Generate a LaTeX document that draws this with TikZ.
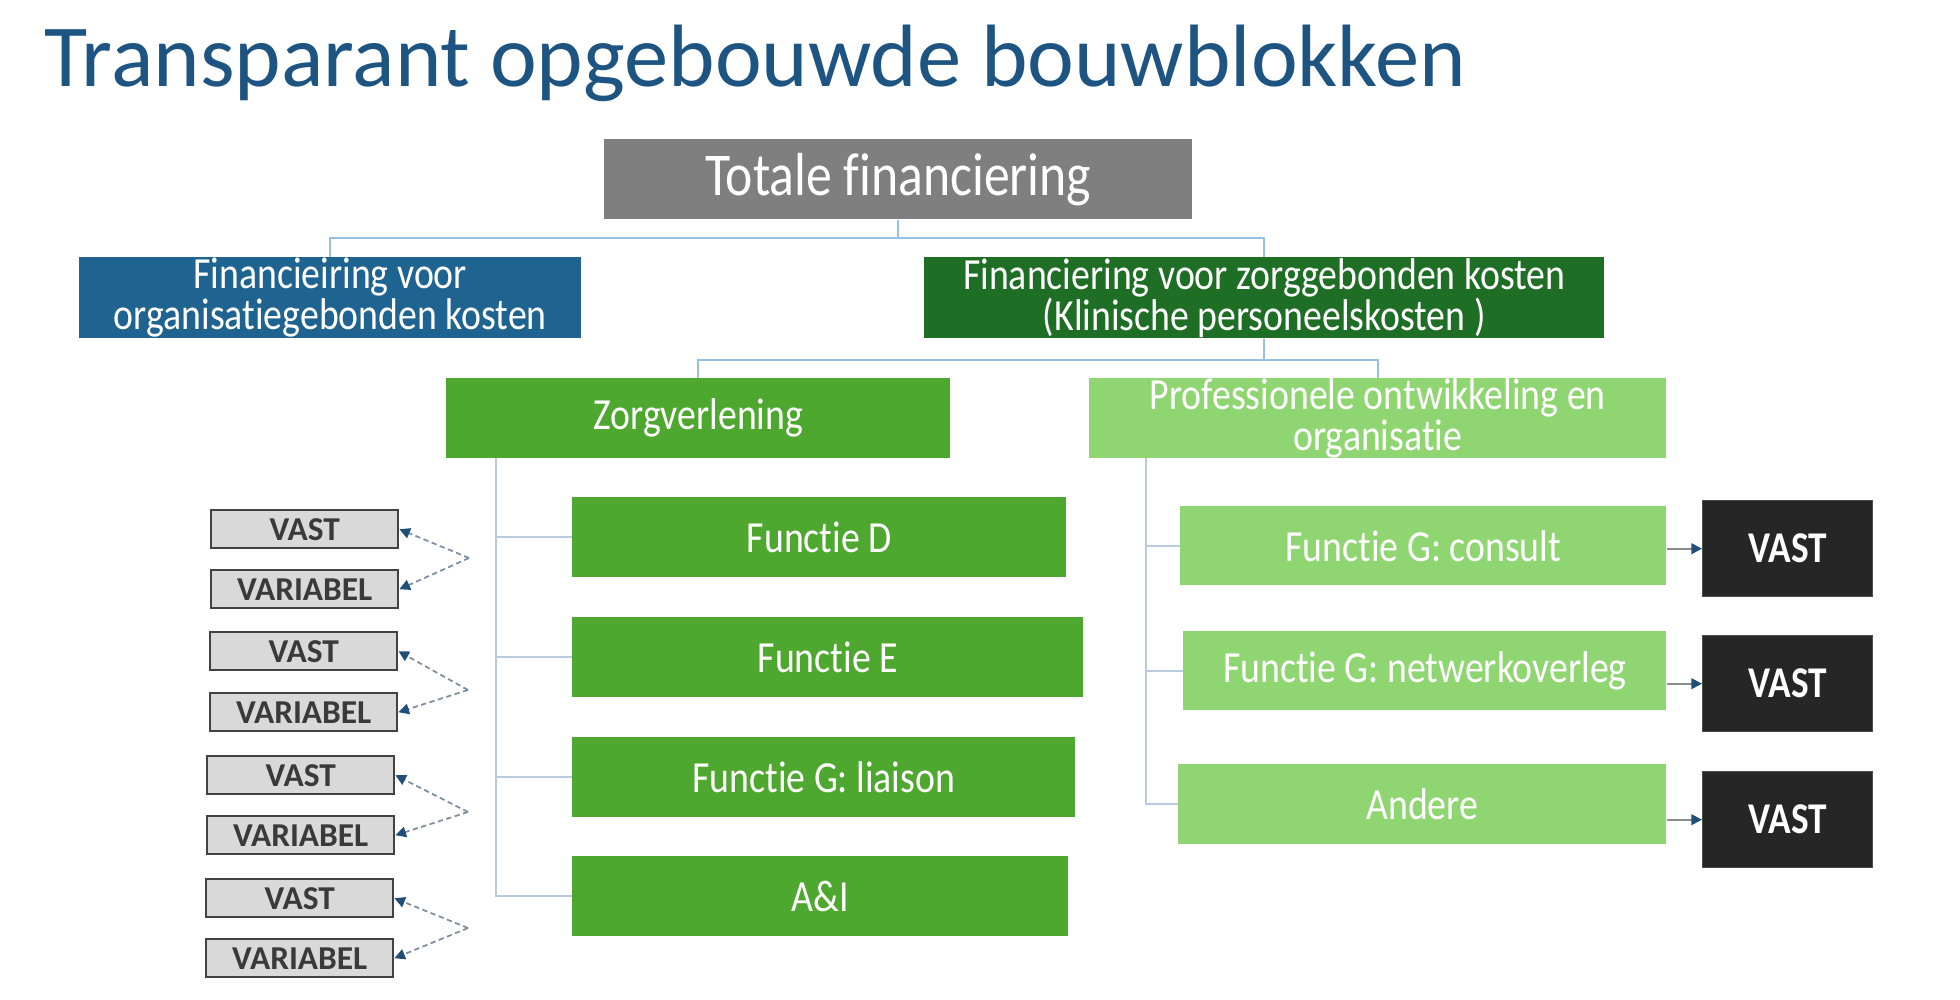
\documentclass[tikz,border=0pt]{standalone}
\usepackage{fontspec}
\setmainfont{Carlito}
\newfontfamily\narrowfont{Carlito}[FakeStretch=0.85, Ligatures=NoCommon]
\usepackage{xcolor}
\usetikzlibrary{positioning,arrows.meta}

\definecolor{titleblue}{RGB}{30,84,130}
\definecolor{topgrey}{RGB}{127,127,127}
\definecolor{orgblue}{RGB}{31,99,145}
\definecolor{darkgreen}{RGB}{31,110,38}
\definecolor{midgreen}{RGB}{78,167,46}
\definecolor{lightgreen}{RGB}{143,214,114}
\definecolor{linkblue}{RGB}{150,192,228}
\definecolor{treegrey}{RGB}{186,202,224}
\definecolor{vastdark}{RGB}{38,38,38}
\definecolor{chipgrey}{RGB}{217,217,217}
\definecolor{chipedge}{RGB}{66,66,66}
\definecolor{chiptext}{RGB}{58,58,58}
\definecolor{tipblue}{RGB}{31,78,121}
\definecolor{dashgrey}{RGB}{125,142,160}

\begin{document}
\begin{tikzpicture}[
    x=0.02cm, y=-0.02cm,
    box/.style={rectangle, anchor=north west, inner sep=0pt, align=center, text=white, font=\narrowfont\fontsize{25.3}{23.5}\selectfont},
    topbox/.style={box, fill=topgrey, font=\narrowfont\fontsize{34.6}{37}\selectfont},
    orgbox/.style={box, fill=orgblue},
    zorgbox/.style={box, fill=darkgreen},
    carebox/.style={box, fill=midgreen},
    devbox/.style={box, fill=lightgreen},
    vastbox/.style={rectangle, anchor=north west, inner sep=0pt, fill=vastdark, draw=black!70, line width=0.8pt, text=white, font=\narrowfont\bfseries\fontsize{25}{28}\selectfont, minimum width=3.4cm, minimum height=1.92cm},
    chip/.style={rectangle, anchor=north west, inner sep=0pt, fill=chipgrey, draw=chipedge, line width=1.4pt, text=chiptext, font=\bfseries\fontsize{19}{20}\selectfont, minimum width=3.74cm, minimum height=0.76cm},
    link/.style={draw=linkblue, line width=1.2pt},
    tree/.style={draw=treegrey, line width=1.2pt},
    feed/.style={draw=black!45, line width=1.2pt, -{Triangle[length=6pt, width=6pt, color=tipblue]}},
    split/.style={draw=dashgrey, line width=1pt, dash pattern=on 3pt off 2pt, -{Triangle[length=6pt, width=6pt, color=tipblue]}}
]
\useasboundingbox (0,0) rectangle (1960,1000);

% Title
\node[anchor=base west, inner sep=0pt, text=titleblue, font=\fontsize{50.4}{54}\selectfont] (title) at (44,87) {Transparant opgebouwde bouwblokken};

% Row 1 and 2: total and its two parts
\node[topbox, minimum width=11.76cm, minimum height=1.6cm] (total) at (604,139) {Totale financiering};
\node[orgbox, minimum width=10.04cm, minimum height=1.62cm] (orgfin) at (79,257) {Financieiring voor\\organisatiegebonden kosten};
\node[zorgbox, minimum width=13.6cm, minimum height=1.62cm] (zorgfin) at (924,257) {Financiering voor zorggebonden kosten\\(Klinische personeelskosten )};

% Row 3
\node[carebox, minimum width=10.08cm, minimum height=1.6cm] (care) at (446,378) {Zorgverlening};
\node[devbox, minimum width=11.54cm, minimum height=1.6cm] (develop) at (1089,378) {Professionele ontwikkeling en\\organisatie};

% Functions under Zorgverlening
\node[carebox, minimum width=9.88cm, minimum height=1.6cm] (funcD) at (572,497) {Functie D};
\node[carebox, minimum width=10.22cm, minimum height=1.6cm] (funcE) at (572,617) {Functie E};
\node[carebox, minimum width=10.06cm, minimum height=1.6cm] (liaison) at (572,737) {Functie G: liaison};
\node[carebox, minimum width=9.92cm, minimum height=1.6cm] (ai) at (572,856) {A\&I};

% Functions under professionele ontwikkeling
\node[devbox, minimum width=9.72cm, minimum height=1.58cm] (consult) at (1180,506) {Functie G: consult};
\node[devbox, minimum width=9.66cm, minimum height=1.58cm] (network) at (1183,631) {Functie G: netwerkoverleg};
\node[devbox, minimum width=9.76cm, minimum height=1.6cm] (other) at (1178,764) {Andere};

% Fixed parts on the right
\node[vastbox] (fixA) at (1702,500) {VAST};
\node[vastbox] (fixB) at (1702,635) {VAST};
\node[vastbox] (fixC) at (1702,771) {VAST};

% Fixed / variable pairs on the left
\node[chip] (fixD) at (210,509) {VAST};
\node[chip] (varD) at (210,569) {VARIABEL};
\node[chip] (fixE) at (209,631) {VAST};
\node[chip] (varE) at (209,692) {VARIABEL};
\node[chip] (fixL) at (206,755) {VAST};
\node[chip] (varL) at (206,815) {VARIABEL};
\node[chip] (fixI) at (205,878) {VAST};
\node[chip] (varI) at (205,938) {VARIABEL};

\coordinate (splitD) at (469,558);
\coordinate (splitE) at (468,690);
\coordinate (splitL) at (468,812);
\coordinate (splitI) at (468,928);
\coordinate (careTrunk) at (496,458);
\coordinate (devTrunk) at (1146,458);

% Top connectors
\draw[link] (total.south) -- ++(0,18) -| (orgfin.north);
\draw[link] (total.south) -- ++(0,18) -| (zorgfin.north);
\draw[link] (zorgfin.south) -- ++(0,21) -| (care.north);
\draw[link] (zorgfin.south) -- ++(0,21) -| (develop.north);

% Left tree
\draw[tree] (careTrunk) |- (ai.west);
\foreach \f in {funcD,funcE,liaison}
    \draw[tree] (careTrunk |- \f.west) -- (\f.west);

% Right tree
\draw[tree] (devTrunk) |- (other.west);
\foreach \f in {consult,network}
    \draw[tree] (devTrunk |- \f.west) -- (\f.west);

% Arrows to VAST
\draw[feed] (consult.east |- fixA.west) -- (fixA.west);
\draw[feed] (network.east |- fixB.west) -- (fixB.west);
\draw[feed] (other.east |- fixC.west) -- (fixC.west);

% Dashed splits
\foreach \p in {D,E,L,I} {
    \draw[split] (split\p) -- (fix\p.east);
    \draw[split] (split\p) -- (var\p.east);
}

\end{tikzpicture}
\end{document}
